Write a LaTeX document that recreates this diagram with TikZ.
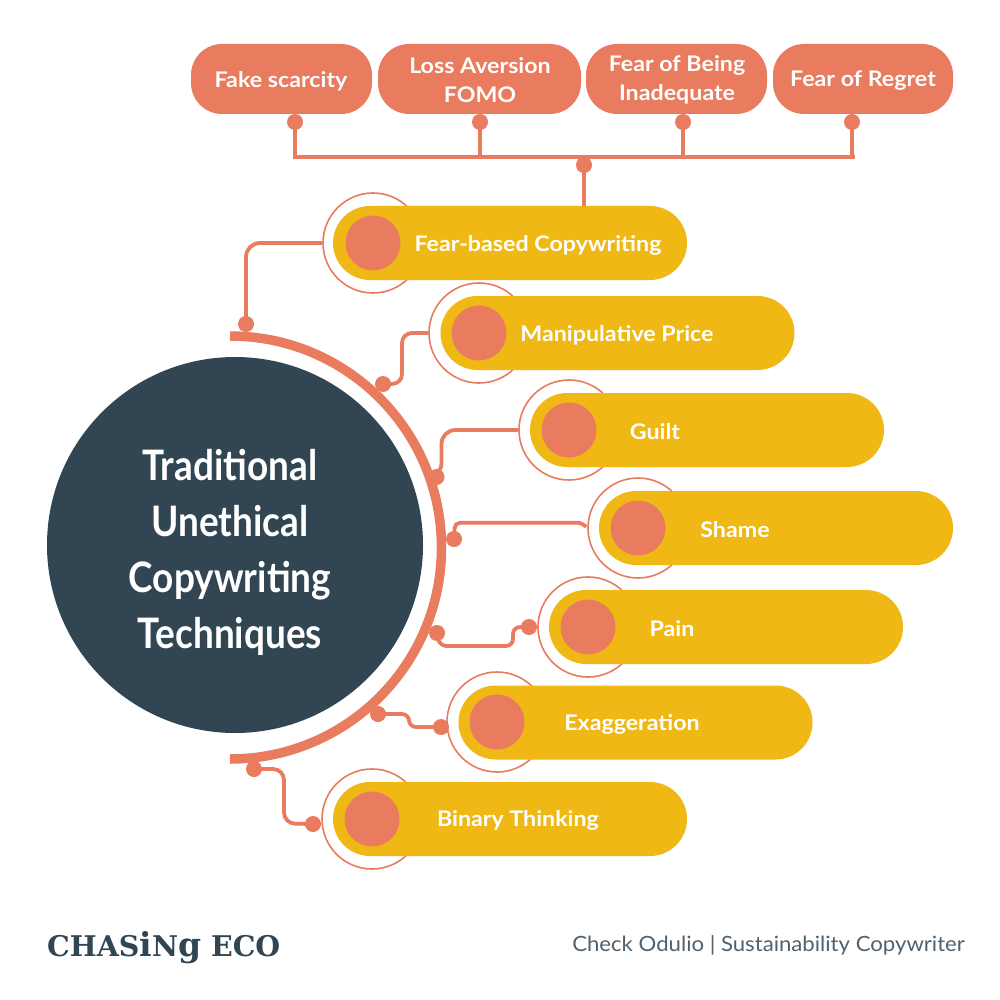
\documentclass[tikz,border=0pt]{standalone}
\usepackage{fontspec}
\setmainfont{Lato}
\newfontfamily\titlefont[FakeStretch=0.88]{Lato}
\newfontfamily\labfont[FakeStretch=1.08]{Lato}
\newfontfamily\creditfont[FakeStretch=1.055]{Lato}
\newfontfamily\logofont{DejaVu Serif}
\usetikzlibrary{shapes.misc}
\definecolor{salmon}{HTML}{E97B5F}
\definecolor{gold}{HTML}{EFB815}
\definecolor{navy}{HTML}{324553}
\tikzset{
  pill/.style={rounded rectangle,fill=gold,draw=none,minimum width=354pt,minimum height=74pt,inner sep=0pt},
  tag/.style={rectangle,rounded corners=31pt,fill=salmon,draw=none,minimum height=70pt,inner sep=0pt},
  disc/.style={circle,fill=salmon,draw=none,minimum size=55pt,inner sep=0pt},
  ring/.style={circle,draw=salmon,line width=1.6pt,fill=white,minimum size=100pt,inner sep=0pt},
  dot/.style={circle,fill=salmon,draw=none,minimum size=16pt,inner sep=0pt},
  conn/.style={draw=salmon,line width=3.8pt,rounded corners=10pt},
  plainconn/.style={draw=salmon,line width=4pt},
  lab/.style={text=white,font=\labfont\bfseries\fontsize{21.5}{25}\selectfont,align=center,inner sep=0pt},
  taglab/.style={text=white,font=\labfont\bfseries\fontsize{21.5}{29.5}\selectfont,align=center,inner sep=0pt},
}
\begin{document}
\begin{tikzpicture}[x=1pt,y=-1pt]
\useasboundingbox (0,0) rectangle (1000,1000);
\fill[white] (0,0) rectangle (1000,1000);

% central circle and arc
\node[circle,fill=navy,minimum size=376pt,inner sep=0pt] (core) at (235,545) {};
\node[text=white,align=center,inner sep=0pt,font=\titlefont\bfseries\fontsize{42}{56.2}\selectfont] (title) at (230,552.5) {Traditional\\Unethical\\Copywriting\\Techniques};
\draw[salmon,line width=9.5pt] (230,336) arc[start angle=90,end angle=-90,radius=211.5pt];

% top tags
\node[tag,minimum width=181pt] (t1) at (281.5,79) {};
\node[tag,minimum width=203pt] (t2) at (479.5,79) {};
\node[tag,minimum width=181pt] (t3) at (676.5,79) {};
\node[tag,minimum width=180pt] (t4) at (863,79) {};
\node[taglab] (tl1) at (281,81) {Fake scarcity};
\node[taglab] (tl2) at (480,80) {Loss Aversion\\FOMO};
\node[taglab] (tl3) at (677,80) {Fear of Being\\Inadequate};
\node[taglab] (tl4) at (863,81) {Fear of Regret};

\node[dot] (d1) at (295,122) {};
\node[dot] (d2) at (480,122) {};
\node[dot] (d3) at (683,122) {};
\node[dot] (d4) at (852,122) {};
\node[dot] (bd) at (584,165) {};
\coordinate (busL) at (293,157.5);
\coordinate (busR) at (854.5,157.5);
\draw[plainconn] (busL) -- (busR);
\draw[plainconn] (d1.center) -- (d1.center |- busL);
\draw[plainconn] (d2.center) -- (d2.center |- busL);
\draw[plainconn] (d3.center) -- (d3.center |- busL);
\draw[plainconn] (d4.center) -- (d4.center |- busL);

% rings
\node[ring] (r1) at (373,243) {};
\node[ring] (r2) at (479,333) {};
\node[ring] (r3) at (569,430) {};
\node[ring] (r4) at (638,528) {};
\node[ring] (r5) at (588,627) {};
\node[ring] (r6) at (497,722) {};
\node[ring] (r7) at (372,819) {};

% pills
\node[pill] (p1) at (510,243) {};
\node[pill] (p2) at (617.5,333) {};
\node[pill] (p3) at (707,430) {};
\node[pill] (p4) at (776,528) {};
\node[pill] (p5) at (726,627) {};
\node[pill] (p6) at (635.5,722.5) {};
\node[pill] (p7) at (510,819) {};

\draw[plainconn] (bd.center) -- (p1.north -| bd.center);

% discs
\node[disc] (c1) at (373,243) {};
\node[disc] (c2) at (479,333) {};
\node[disc] (c3) at (569,430) {};
\node[disc] (c4) at (638,528) {};
\node[disc] (c5) at (588,627) {};
\node[disc] (c6) at (497,722) {};
\node[disc] (c7) at (372,819) {};

% pill labels
\node[lab] (l1) at (538,245) {Fear-based Copywriting};
\node[lab] (l2) at (617,335) {Manipulative Price};
\node[lab] (l3) at (655,431.5) {Guilt};
\node[lab] (l4) at (735,529.5) {Shame};
\node[lab] (l5) at (672,628.5) {Pain};
\node[lab] (l6) at (632,724) {Exaggeration};
\node[lab] (l7) at (518,820.5) {Binary Thinking};

% connector dots on the arc
\node[dot] (a1) at (246,324) {};
\node[dot] (a2) at (383,384) {};
\node[dot] (a3) at (436.5,477) {};
\node[dot] (a4) at (454,539) {};
\node[dot] (a5) at (437,633) {};
\node[dot] (a6) at (378,714) {};
\node[dot] (a7) at (254,769) {};
\node[dot] (e5) at (529,627) {};
\node[dot] (e6) at (441,727) {};
\node[dot] (e7) at (313,824) {};

% connectors
\draw[conn,rounded corners=14pt] (r1.west) -| (a1.center);
\draw[conn] (r2.west) -- (402,333) -- (402,384) -- (a2.center);
\draw[conn,rounded corners=14pt] (r3.west) -- (441.5,430) -- (441.5,477) -- (a3.center);
\draw[conn,rounded corners=5pt] (r4.west) ++(-1,-1) -- (582,522.7) -- (455,522.7) -- (a4.center);
\draw[conn,rounded corners=7pt] (a5.center) -- (439.5,646) -- (513,646) -- (513,627) -- (e5.center);
\draw[conn,rounded corners=7pt] (a6.center) -- (409,714) -- (409,727) -- (e6.center);
\draw[conn,rounded corners=11pt] (a7.center) -- (284,769) -- (284,823.5) -- (e7.center);

% footer
\node[anchor=west,inner sep=0pt,text=navy,font=\logofont\bfseries\fontsize{28.5}{30}\selectfont] (logo) at (47,948) {CHAS{\fontsize{33}{30}\selectfont i}N{\fontsize{33}{30}\selectfont g} ECO};
\node[anchor=east,inner sep=0pt,text=navy!85,font=\creditfont\fontsize{21}{25}\selectfont] (credit) at (965,945) {Check Odulio | Sustainability Copywriter};
\end{tikzpicture}
\end{document}
